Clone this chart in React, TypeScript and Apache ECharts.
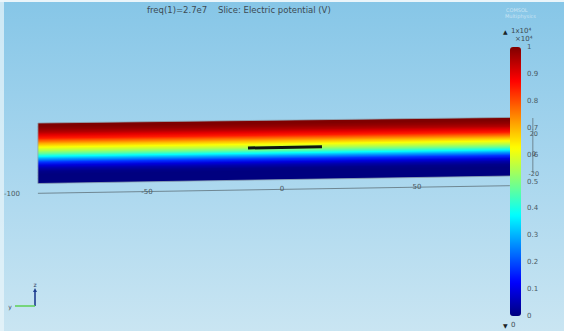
import React, { useEffect, useRef } from "react";
import * as echarts from "echarts";

// Potential profile through the slab thickness (0 = top face, 1 = bottom face), in units of 1e4 V
const depthFraction = [0, 0.05, 0.1, 0.15, 0.2, 0.25, 0.3, 0.35, 0.4, 0.45, 0.5, 0.55, 0.6, 0.65, 0.7, 0.75, 0.8, 0.85, 0.9, 0.95, 1];
const potentialValues = [1.0, 1.0, 0.98, 0.95, 0.9, 0.85, 0.77, 0.69, 0.62, 0.56, 0.48, 0.38, 0.27, 0.17, 0.09, 0.04, 0.01, 0, 0, 0, 0];

// Colour bar range
const colorbarMin = 0;
const colorbarMax = 1;
const colorbarStep = 0.1;

// Axis ticks of the 3D box
const xTickValues = [-100, -50, 0, 50];
const xTickLabels = ["-100", "-50", "0", "50"];
const zTickValues = [20, 0, -20];
const zTickLabels = ["20", "0", "-20"];

// Geometry (µm, in view coordinates)
const slabXRange = [-90.4, 85];
const slabTopZ = [29, 34.6];
const slabBottomZ = [-31.5, -24];
const electrodeX = [-12.6, 14.8];
const electrodeZ = [4, 5.3];
const xAxisLineX = [-90.4, 84.4];
const xAxisLineZ = [-41.3, -33.7];
const zAxisX = 92.9;
const zAxisZ = [34, -21];

const jet = ["#00007f", "#0000ff", "#007fff", "#00ffff", "#7fff7f", "#ffff00", "#ff7f00", "#ff0000", "#7f0000"];

export default function App() {
  const ref = useRef<HTMLDivElement>(null);
  useEffect(() => {
    const chart = echarts.init(ref.current as HTMLDivElement, null, { renderer: "svg" });
    const n = depthFraction.length;
    const lerp = (a: number, b: number, t: number) => a + (b - a) * t;
    const zAt = (side: number, f: number) => lerp(slabTopZ[side], slabBottomZ[side], f);
    const lineZ = (x: number) =>
      lerp(xAxisLineZ[0], xAxisLineZ[1], (x - xAxisLineX[0]) / (xAxisLineX[1] - xAxisLineX[0]));
    const font = "DejaVu Sans";
    const labelColor = "#4a5962";

    const slabData = depthFraction.map((f, i) => [f, potentialValues[i]]);

    const option: any = {
      animation: false,
      backgroundColor: new echarts.graphic.LinearGradient(0, 0, 0, 1, [
        { offset: 0, color: "#86c6e7" },
        { offset: 0.5, color: "#a8d6ee" },
        { offset: 1, color: "#c9e5f2" },
      ]),
      grid: [
        { left: 12, right: 12, top: 52, height: 200, containLabel: false, outerBoundsMode: "none" },
        { left: 510, width: 11, top: 47, height: 269, containLabel: false, outerBoundsMode: "none" },
      ],
      xAxis: [
        { type: "value", gridIndex: 0, min: -100, max: 100, show: false },
        { type: "value", gridIndex: 1, min: 0, max: 1, show: false },
      ],
      yAxis: [
        { type: "value", gridIndex: 0, min: -100, max: 100, show: false },
        {
          type: "value",
          gridIndex: 1,
          min: colorbarMin,
          max: colorbarMax,
          interval: colorbarStep,
          position: "right",
          axisLine: { show: false },
          axisTick: { show: false },
          splitLine: { show: false },
          axisLabel: { color: labelColor, fontSize: 7, fontFamily: font, margin: 6 },
        },
      ],
      visualMap: {
        type: "continuous",
        min: colorbarMin,
        max: colorbarMax,
        seriesIndex: 0,
        dimension: 1,
        calculable: false,
        hoverLink: false,
        orient: "vertical",
        left: 510,
        top: 47,
        itemWidth: 11,
        itemHeight: 269,
        padding: 0,
        inRange: { color: jet },
        z: 6,
      },
      series: [
        {
          type: "custom",
          coordinateSystem: "cartesian2d",
          xAxisIndex: 0,
          yAxisIndex: 0,
          encode: { x: 0, y: 1 },
          data: slabData,
          silent: true,
          z: 2,
          renderItem: (params: any, api: any) => {
            const i = params.dataIndex;
            const L = slabXRange[0];
            const R = slabXRange[1];
            if (i === n - 1) {
              const pts = [
                api.coord([L, slabTopZ[0]]),
                api.coord([R, slabTopZ[1]]),
                api.coord([R, slabBottomZ[1]]),
                api.coord([L, slabBottomZ[0]]),
              ];
              return {
                type: "polygon",
                shape: { points: pts },
                style: { fill: "none", stroke: "#8ea6b3", lineWidth: 0.8 },
                z2: 10,
              };
            }
            const f0 = depthFraction[i];
            const f1 = depthFraction[i + 1];
            const fe = Math.min(1, f1 + 0.04);
            const TL = api.coord([L, zAt(0, f0)]);
            const TR = api.coord([R, zAt(1, f0)]);
            const BR = api.coord([R, zAt(1, fe)]);
            const BL = api.coord([L, zAt(0, fe)]);
            const BL1 = api.coord([L, zAt(0, f1)]);
            const BR1 = api.coord([R, zAt(1, f1)]);
            const mt = [(TL[0] + TR[0]) / 2, (TL[1] + TR[1]) / 2];
            const mb = [(BL1[0] + BR1[0]) / 2, (BL1[1] + BR1[1]) / 2];
            const ux = TR[0] - TL[0];
            const uy = TR[1] - TL[1];
            const len = Math.hypot(ux, uy);
            const nx = -uy / len;
            const ny = ux / len;
            const d = (mb[0] - mt[0]) * nx + (mb[1] - mt[1]) * ny;
            const c0 = api.visual("color");
            const c1 = api.visual("color", i + 1);
            const grad = new echarts.graphic.LinearGradient(
              mt[0],
              mt[1],
              mt[0] + nx * d,
              mt[1] + ny * d,
              [
                { offset: 0, color: c0 },
                { offset: 1, color: c1 },
              ],
              true
            );
            return {
              type: "polygon",
              shape: { points: [TL, TR, BR, BL] },
              style: { fill: grad, stroke: "none" },
            };
          },
        },
        {
          type: "line",
          xAxisIndex: 0,
          yAxisIndex: 0,
          data: [
            [xAxisLineX[0], xAxisLineZ[0]],
            [xAxisLineX[1], xAxisLineZ[1]],
          ],
          symbol: "none",
          silent: true,
          lineStyle: { color: "#6f8793", width: 1 },
          z: 1,
        },
        {
          type: "custom",
          coordinateSystem: "cartesian2d",
          xAxisIndex: 0,
          yAxisIndex: 0,
          encode: { x: 0, y: 1 },
          data: xTickValues.map((v) => [v, lineZ(v)]),
          silent: true,
          z: 3,
          renderItem: (params: any, api: any) => {
            const p = api.coord([api.value(0), api.value(1)]);
            return {
              type: "text",
              x: p[0],
              y: p[1],
              style: {
                text: xTickLabels[params.dataIndex],
                fill: labelColor,
                fontSize: 7,
                fontFamily: font,
                align: "center",
                verticalAlign: "middle",
              },
            };
          },
        },
        {
          type: "line",
          xAxisIndex: 0,
          yAxisIndex: 0,
          data: [
            [zAxisX, zAxisZ[0]],
            [zAxisX, zAxisZ[1]],
          ],
          symbol: "none",
          silent: true,
          lineStyle: { color: "#6f8793", width: 1 },
          z: 1,
        },
        {
          type: "custom",
          coordinateSystem: "cartesian2d",
          xAxisIndex: 0,
          yAxisIndex: 0,
          encode: { x: 0, y: 1 },
          data: zTickValues.map((v) => [zAxisX, v]),
          silent: true,
          z: 7,
          renderItem: (params: any, api: any) => {
            const p = api.coord([api.value(0), api.value(1)]);
            return {
              type: "text",
              x: p[0] + 1,
              y: p[1] + 2,
              style: {
                text: zTickLabels[params.dataIndex],
                fill: labelColor,
                fontSize: 6.5,
                fontFamily: font,
                align: "center",
                verticalAlign: "middle",
              },
            };
          },
        },
        {
          type: "line",
          xAxisIndex: 0,
          yAxisIndex: 0,
          data: [
            [electrodeX[0], electrodeZ[0]],
            [electrodeX[1], electrodeZ[1]],
          ],
          symbol: "none",
          silent: true,
          lineStyle: { color: "#0e1410", width: 3 },
          z: 5,
        },
      ],
      graphic: [
        { type: "rect", left: 0, top: 0, shape: { width: 564, height: 2 }, style: { fill: "#eaf5fa" }, silent: true },
        { type: "rect", left: 0, top: 0, shape: { width: 4, height: 331 }, style: { fill: "rgba(235,246,251,0.7)" }, silent: true },
        {
          type: "text",
          x: 147,
          y: 10,
          style: { text: "freq(1)=2.7e7", fill: "#3c4a53", fontSize: 8.5, fontFamily: font, verticalAlign: "middle" },
        },
        {
          type: "text",
          x: 218,
          y: 10,
          style: { text: "Slice: Electric potential (V)", fill: "#3c4a53", fontSize: 8.5, fontFamily: font, verticalAlign: "middle" },
        },
        {
          type: "text",
          x: 506,
          y: 10,
          style: { text: "COMSOL", fill: "rgba(255,255,255,0.55)", fontSize: 5, fontFamily: font, verticalAlign: "middle" },
        },
        {
          type: "text",
          x: 505,
          y: 16,
          style: { text: "Multiphysics", fill: "rgba(255,255,255,0.55)", fontSize: 5, fontFamily: font, verticalAlign: "middle" },
        },
        {
          type: "text",
          x: 503,
          y: 31,
          style: { text: "▲", fill: "#1c2328", fontSize: 6, fontFamily: font, verticalAlign: "middle" },
        },
        {
          type: "text",
          x: 511,
          y: 31,
          style: { text: "1x10⁴", fill: "#3c4a53", fontSize: 7, fontFamily: font, verticalAlign: "middle" },
        },
        {
          type: "text",
          x: 515,
          y: 39,
          style: { text: "×10⁴", fill: "#3c4a53", fontSize: 7, fontFamily: font, verticalAlign: "middle" },
        },
        {
          type: "text",
          x: 503,
          y: 325,
          style: { text: "▼", fill: "#1c2328", fontSize: 6, fontFamily: font, verticalAlign: "middle" },
        },
        {
          type: "text",
          x: 511,
          y: 325,
          style: { text: "0", fill: "#3c4a53", fontSize: 7, fontFamily: font, verticalAlign: "middle" },
        },
        {
          type: "line",
          shape: { x1: 35, y1: 306, x2: 35, y2: 291 },
          style: { stroke: "#1d3c8f", lineWidth: 1.6 },
        },
        {
          type: "polygon",
          shape: { points: [[33, 292], [37, 292], [35, 288]] },
          style: { fill: "#1d3c8f" },
        },
        {
          type: "text",
          x: 35,
          y: 284,
          style: { text: "z", fill: "#2a3a60", fontSize: 6, fontFamily: font, align: "center", verticalAlign: "middle" },
        },
        {
          type: "line",
          shape: { x1: 35, y1: 306, x2: 15, y2: 306 },
          style: { stroke: "#63d25e", lineWidth: 1.6 },
        },
        {
          type: "text",
          x: 10,
          y: 306,
          style: { text: "y", fill: "#3a4a5a", fontSize: 6, fontFamily: font, align: "center", verticalAlign: "middle" },
        },
      ],
    };
    chart.setOption(option);
    return () => chart.dispose();
  }, []);
  return <div ref={ref} style={{ position: "absolute", left: 0, top: 0, width: 564, height: 331 }} />;
}
